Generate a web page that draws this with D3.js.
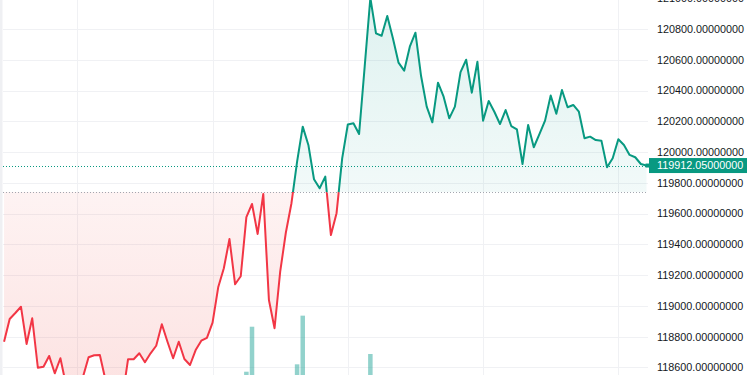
<!DOCTYPE html>
<html>
<head>
<meta charset="utf-8">
<script src="https://cdn.jsdelivr.net/npm/d3@7"></script>
<style>
  html, body { margin: 0; padding: 0; background: #ffffff; }
  svg { display: block; }
</style>
</head>
<body>
<script>
// ---------------- DATA ----------------
const prices = [
  118766, 118914, 118953, 118994, 118752, 118919, 118597, 118604, 118674, 118561,
  118659, 118485, 118452, 118478, 118537, 118665, 118678, 118680, 118517, 118439,
  118420, 118400, 118652, 118652, 118691, 118633, 118691, 118740, 118880, 118766,
  118659, 118766, 118654, 118615, 118712, 118773, 118792, 118890, 119120, 119244,
  119434, 119140, 119192, 119577, 119662, 119467, 119727, 119038, 118854, 119222,
  119475, 119667, 119937, 120165, 120046, 119823, 119764, 119840, 119460, 119602,
  119959, 120179, 120187, 120117, 120559, 121002, 120772, 120756, 120885, 120740,
  120581, 120529, 120685, 120776, 120494, 120295, 120193, 120451, 120360, 120219,
  120295, 120520, 120600, 120386, 120587, 120204, 120332, 120262, 120182, 120273,
  120169, 120148, 119922, 120176, 120031, 120117, 120204, 120368, 120249, 120403,
  120291, 120306, 120262, 120089, 120100, 120078, 120074, 119901, 119959, 120083,
  120046, 119981, 119966, 119922, 119912.05
];
// volume bars (bar index, volume)
const volumeIdx = [43, 44, 52, 53, 65];
const volumeVal = [0.35, 5.15, 1.14, 6.33, 2.24];
const baseValue = 119740;
const priceTicks = [118600, 118800, 119000, 119200, 119400, 119600, 119800,
                    120000, 120200, 120400, 120600, 120800, 121000];
const timeGridIdx = [13, 37, 61, 85, 109];

// ---------------- LAYOUT ----------------
const W = 750, H = 375;
const plotL = 3, plotR = 648;
const teal = '#089981', red = '#f23645';

const x = d3.scaleLinear().domain([0, prices.length - 1]).range([4.05, 646.5]);
const y = d3.scaleLinear().domain([118600, 120800]).range([367.3, 29]);
const vy = d3.scaleLinear().domain([0, 8]).range([H, 300]);
const baseY = y(baseValue);
const lastVal = prices[prices.length - 1];
const lastY = y(lastVal);

const svg = d3.select('body').append('svg').attr('width', W).attr('height', H);
svg.append('rect').attr('width', W).attr('height', H).attr('fill', '#ffffff');
svg.append('rect').attr('x', 0).attr('y', 0).attr('width', 2.5).attr('height', H).attr('fill', '#eff0f3');

const defs = svg.append('defs');
defs.append('clipPath').attr('id', 'clipPlot').append('rect')
  .attr('x', plotL).attr('y', 0).attr('width', plotR - plotL).attr('height', H);
defs.append('clipPath').attr('id', 'clipAbove').append('rect')
  .attr('x', plotL).attr('y', -10).attr('width', plotR - plotL).attr('height', baseY + 10);
defs.append('clipPath').attr('id', 'clipBelow').append('rect')
  .attr('x', plotL).attr('y', baseY).attr('width', plotR - plotL).attr('height', H - baseY + 10);

const gTop = defs.append('linearGradient').attr('id', 'gradTop')
  .attr('gradientUnits', 'userSpaceOnUse').attr('x1', 0).attr('x2', 0).attr('y1', 0).attr('y2', baseY);
gTop.append('stop').attr('offset', 0).attr('stop-color', 'rgb(38,166,154)').attr('stop-opacity', 0.15);
gTop.append('stop').attr('offset', 1).attr('stop-color', 'rgb(38,166,154)').attr('stop-opacity', 0.06);
const gBot = defs.append('linearGradient').attr('id', 'gradBot')
  .attr('gradientUnits', 'userSpaceOnUse').attr('x1', 0).attr('x2', 0).attr('y1', baseY).attr('y2', H);
gBot.append('stop').attr('offset', 0).attr('stop-color', 'rgb(239,83,80)').attr('stop-opacity', 0.07);
gBot.append('stop').attr('offset', 1).attr('stop-color', 'rgb(239,83,80)').attr('stop-opacity', 0.16);

// ---------------- GRID ----------------
const grid = svg.append('g');
grid.selectAll('line.h').data(priceTicks).join('line').attr('class', 'h')
  .attr('x1', plotL).attr('x2', plotR)
  .attr('y1', d => Math.round(y(d)) + 0.5).attr('y2', d => Math.round(y(d)) + 0.5)
  .attr('stroke', '#f0f1f4').attr('stroke-width', 1);
grid.selectAll('line.v').data(timeGridIdx).join('line').attr('class', 'v')
  .attr('x1', d => Math.round(x(d)) + 0.5).attr('x2', d => Math.round(x(d)) + 0.5)
  .attr('y1', 0).attr('y2', H)
  .attr('stroke', '#f0f1f4').attr('stroke-width', 1);

// ---------------- VOLUME ----------------
const bw = 4.5;
svg.append('g').attr('clip-path', 'url(#clipPlot)')
  .selectAll('rect').data(volumeIdx).join('rect')
  .attr('x', d => x(d) - bw / 2)
  .attr('width', bw)
  .attr('y', (d, k) => vy(volumeVal[k]))
  .attr('height', (d, k) => vy(0) - vy(volumeVal[k]))
  .attr('fill', 'rgba(38,166,154,0.5)');

// ---------------- BASELINE SERIES ----------------
const area = d3.area().x((d, i) => x(i)).y0(baseY).y1(d => y(d));
const line = d3.line().x((d, i) => x(i)).y(d => y(d));

const series = svg.append('g').attr('clip-path', 'url(#clipPlot)');
series.append('path').datum(prices).attr('d', area)
  .attr('fill', 'url(#gradTop)').attr('clip-path', 'url(#clipAbove)');
series.append('path').datum(prices).attr('d', area)
  .attr('fill', 'url(#gradBot)').attr('clip-path', 'url(#clipBelow)');

// base line (dotted gray)
svg.append('line').attr('x1', plotL).attr('x2', plotR)
  .attr('y1', Math.round(baseY) + 0.5).attr('y2', Math.round(baseY) + 0.5)
  .attr('stroke', '#a3a6af').attr('stroke-width', 1).attr('stroke-dasharray', '1,2');
// last price line (dotted teal)
svg.append('line').attr('x1', plotL).attr('x2', plotR)
  .attr('y1', Math.round(lastY) + 0.5).attr('y2', Math.round(lastY) + 0.5)
  .attr('stroke', teal).attr('stroke-width', 1).attr('stroke-dasharray', '1,2');

series.append('path').datum(prices).attr('d', line)
  .attr('fill', 'none').attr('stroke', teal).attr('stroke-width', 2)
  .attr('stroke-linejoin', 'round').attr('clip-path', 'url(#clipAbove)');
series.append('path').datum(prices).attr('d', line)
  .attr('fill', 'none').attr('stroke', red).attr('stroke-width', 2)
  .attr('stroke-linejoin', 'round').attr('clip-path', 'url(#clipBelow)');

// ---------------- PRICE AXIS ----------------
const axis = d3.axisRight(y).tickValues(priceTicks).tickSize(0).tickPadding(9)
  .tickFormat(d => d3.format('.8f')(d));
const ax = svg.append('g').attr('transform', `translate(${plotR},0)`).call(axis);
ax.select('.domain').remove();
ax.selectAll('text')
  .attr('fill', '#131722')
  .style('font-family', '"Liberation Sans", Arial, sans-serif')
  .style('font-size', '10.8px');

// last price label
svg.append('rect').attr('x', 649).attr('y', lastY - 7.5).attr('width', 98).attr('height', 15)
  .attr('fill', teal);
svg.append('rect').attr('x', 645.5).attr('y', lastY - 2).attr('width', 4.5).attr('height', 4)
  .attr('fill', teal);
svg.append('text').attr('x', plotR + 9).attr('y', lastY).attr('dy', '0.35em')
  .attr('fill', '#ffffff')
  .style('font-family', '"Liberation Sans", Arial, sans-serif')
  .style('font-size', '10.8px')
  .text(d3.format('.8f')(lastVal));
</script>
</body>
</html>
